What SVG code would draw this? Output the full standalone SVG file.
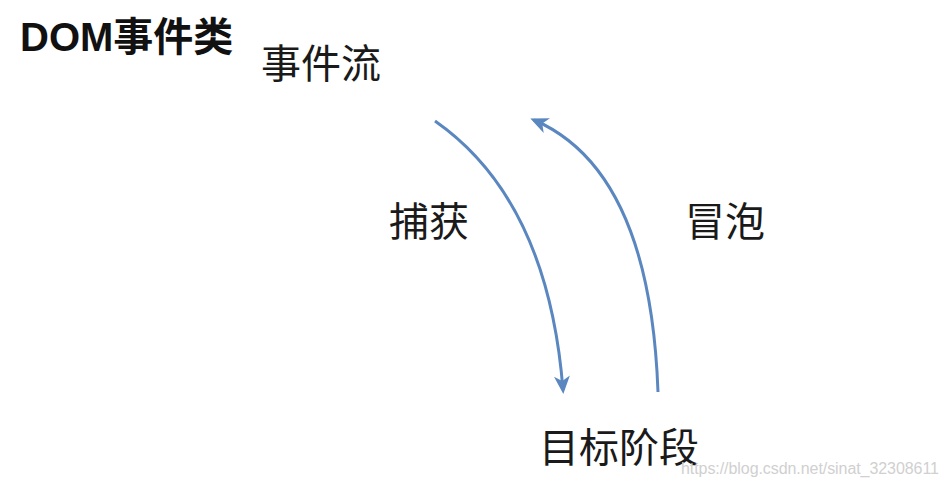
<svg xmlns="http://www.w3.org/2000/svg" width="949" height="487" viewBox="0 0 949 487">
<style>
.t{font-family:"Noto Sans CJK SC","Liberation Sans",sans-serif;fill:#1a1a1a;font-size:40px}
.arr{fill:none;stroke:#5b87c0;stroke-width:3}
</style>
<defs>
<marker id="ah" markerWidth="20" markerHeight="16" refX="14" refY="8" orient="auto" markerUnits="userSpaceOnUse">
<path d="M0,0 L18,8 L0,16 L5,8 Z" fill="#5b87c0"/>
</marker>
</defs>
<rect width="949" height="487" fill="#fff"/>
<g id="title"><text x="20" y="51" font-family="'Liberation Sans','Noto Sans CJK SC',sans-serif" font-weight="bold" font-size="40" fill="#111">DOM事件类</text></g>
<g id="flow"><text class="t" x="261" y="78">事件流</text></g>
<g id="capture"><text class="t" x="389" y="236">捕获</text></g>
<g id="bubble"><text class="t" x="685" y="236">冒泡</text></g>
<g id="target"><text class="t" x="539" y="462">目标阶段</text></g>
<g id="connectors">
<path class="arr" d="M435,121 Q548,200 563,390" marker-end="url(#ah)"/>
<path class="arr" d="M658,392 Q650,170 534,120" marker-end="url(#ah)"/>
</g>
<text x="681" y="474" font-family="'Liberation Sans',sans-serif" font-size="16" fill="#d0d0d0" textLength="258">https://blog.csdn.net/sinat_32308611</text>
</svg>
